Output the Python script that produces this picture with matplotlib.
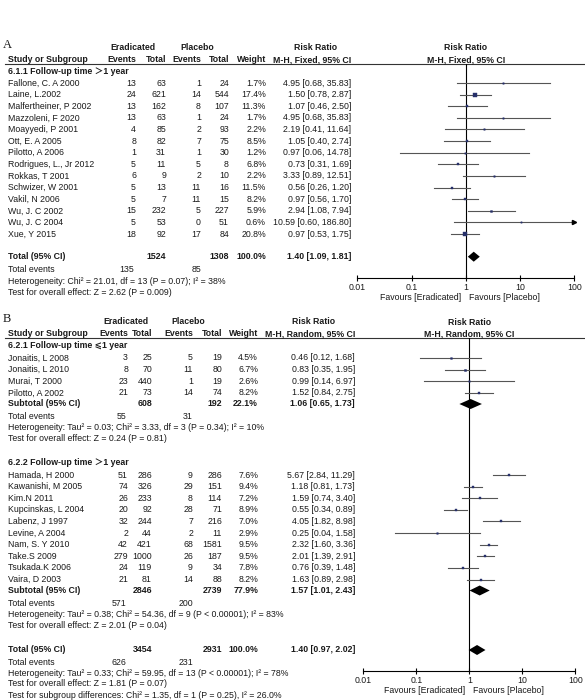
import numpy as np
import matplotlib
matplotlib.use("Agg")
import matplotlib.pyplot as plt
from matplotlib.ticker import NullLocator

plt.rcParams['font.family'] = ['Liberation Sans', 'DejaVu Sans', 'Noto Sans CJK SC']

# ---- panel A : fixed effect, follow-up > 1 year ----
a_names = ["Fallone, C. A 2000", "Laine, L.2002", "Malfertheiner, P 2002", "Mazzoleni, F 2020",
           "Moayyedi, P 2001", "Ott, E. A 2005", "Pilotto, A 2006", "Rodrigues, L., Jr 2012",
           "Rokkas, T 2001", "Schwizer, W 2001", "Vakil, N 2006", "Wu, J. C 2002",
           "Wu, J. C 2004", "Xue, Y 2015"]
a_ev_e = [13, 24, 13, 13, 4, 8, 1, 5, 6, 5, 5, 15, 5, 18]
a_tot_e = [63, 621, 162, 63, 85, 82, 31, 11, 9, 13, 7, 232, 53, 92]
a_ev_p = [1, 14, 8, 1, 2, 7, 1, 5, 2, 11, 11, 5, 0, 17]
a_tot_p = [24, 544, 107, 24, 93, 75, 30, 8, 10, 16, 15, 227, 51, 84]
a_weight = [1.7, 17.4, 11.3, 1.7, 2.2, 8.5, 1.2, 6.8, 2.2, 11.5, 8.2, 5.9, 0.6, 20.8]
a_rr = [4.95, 1.50, 1.07, 4.95, 2.19, 1.05, 0.97, 0.73, 3.33, 0.56, 0.97, 2.94, 10.59, 0.97]
a_lo = [0.68, 0.78, 0.46, 0.68, 0.41, 0.40, 0.06, 0.31, 0.89, 0.26, 0.56, 1.08, 0.60, 0.53]
a_hi = [35.83, 2.87, 2.50, 35.83, 11.64, 2.74, 14.78, 1.69, 12.51, 1.20, 1.70, 7.94, 186.80, 1.75]
a_total = dict(tot_e=1524, tot_p=1308, rr=1.40, lo=1.09, hi=1.81, ev_e=135, ev_p=85)
a_het = "Heterogeneity: Chi² = 21.01, df = 13 (P = 0.07); I² = 38%"
a_test = "Test for overall effect: Z = 2.62 (P = 0.009)"

# ---- panel B : random effects, two subgroups ----
b1_names = ["Jonaitis, L 2008", "Jonaitis, L 2010", "Murai, T 2000", "Pilotto, A 2002"]
b1_ev_e = [3, 8, 23, 21]
b1_tot_e = [25, 70, 440, 73]
b1_ev_p = [5, 11, 1, 14]
b1_tot_p = [19, 80, 19, 74]
b1_weight = [4.5, 6.7, 2.6, 8.2]
b1_rr = [0.46, 0.83, 0.99, 1.52]
b1_lo = [0.12, 0.35, 0.14, 0.84]
b1_hi = [1.68, 1.95, 6.97, 2.75]
b1_sub = dict(tot_e=608, tot_p=192, w=22.1, rr=1.06, lo=0.65, hi=1.73, ev_e=55, ev_p=31)
b1_het = "Heterogeneity: Tau² = 0.03; Chi² = 3.33, df = 3 (P = 0.34); I² = 10%"
b1_test = "Test for overall effect: Z = 0.24 (P = 0.81)"

b2_names = ["Hamada, H 2000", "Kawanishi, M 2005", "Kim.N 2011", "Kupcinskas, L 2004",
            "Labenz, J 1997", "Levine, A 2004", "Nam, S. Y 2010", "Take.S 2009",
            "Tsukada.K 2006", "Vaira, D 2003"]
b2_ev_e = [51, 74, 26, 20, 32, 2, 42, 279, 24, 21]
b2_tot_e = [286, 326, 233, 92, 244, 44, 421, 1000, 119, 81]
b2_ev_p = [9, 29, 8, 28, 7, 2, 68, 26, 9, 14]
b2_tot_p = [286, 151, 114, 71, 216, 11, 1581, 187, 34, 88]
b2_weight = [7.6, 9.4, 7.2, 8.9, 7.0, 2.9, 9.5, 9.5, 7.8, 8.2]
b2_rr = [5.67, 1.18, 1.59, 0.55, 4.05, 0.25, 2.32, 2.01, 0.76, 1.63]
b2_lo = [2.84, 0.81, 0.74, 0.34, 1.82, 0.04, 1.60, 1.39, 0.39, 0.89]
b2_hi = [11.29, 1.73, 3.40, 0.89, 8.98, 1.58, 3.36, 2.91, 1.48, 2.98]
b2_sub = dict(tot_e=2846, tot_p=2739, w=77.9, rr=1.57, lo=1.01, hi=2.43, ev_e=571, ev_p=200)
b2_het = "Heterogeneity: Tau² = 0.38; Chi² = 54.36, df = 9 (P < 0.00001); I² = 83%"
b2_test = "Test for overall effect: Z = 2.01 (P = 0.04)"

b_total = dict(tot_e=3454, tot_p=2931, rr=1.40, lo=0.97, hi=2.02, ev_e=626, ev_p=231)
b_het = "Heterogeneity: Tau² = 0.33; Chi² = 59.95, df = 13 (P < 0.00001); I² = 78%"
b_test = "Test for overall effect: Z = 1.81 (P = 0.07)"
b_sub_test = "Test for subgroup differences: Chi² = 1.35, df = 1 (P = 0.25), I² = 26.0%"

ticks = [0.01, 0.1, 1, 10, 100]
tick_labels = ["0.01", "0.1", "1", "10", "100"]

FS = 6.3
TXT = '#1a1a1a'
SQ = '#27306a'
CI = '#555555'
STEP = 11.62

fig = plt.figure(figsize=(5.85, 7.0), dpi=100)
ax = fig.add_axes([0, 0, 1, 1])
ax.set_xlim(0, 585)
ax.set_ylim(700, 0)
ax.axis('off')


def t(x, y, s, ha='left', bold=False, **kw):
    ax.text(x, y, s, ha=ha, va='center', fontsize=FS, color=TXT,
            fontweight='bold' if bold else 'normal', **kw)


def rr_str(rr, lo, hi):
    return f"{rr:.2f} [{lo:.2f}, {hi:.2f}]"


def forest_axes(x0, x1, ytop, ybot):
    f = fig.add_axes([x0 / 585, 1 - ybot / 700, (x1 - x0) / 585, (ybot - ytop) / 700])
    f.set_xscale('log')
    f.set_xlim(0.01, 100)
    f.set_ylim(ybot, ytop)
    f.patch.set_alpha(0)
    for s in ['left', 'right', 'top']:
        f.spines[s].set_visible(False)
    f.spines['bottom'].set_linewidth(0.8)
    f.set_yticks([])
    f.set_xticks(ticks)
    f.set_xticklabels(tick_labels)
    f.xaxis.set_minor_locator(NullLocator())
    f.tick_params(axis='x', direction='inout', length=4, width=0.8, pad=1.5,
                  labelsize=FS, labelcolor=TXT)
    f.axvline(1, color='black', lw=0.8)
    return f


def study_marks(f, ys, rr, lo, hi, w):
    for y, r, l, h, wt in zip(ys, rr, lo, hi, w):
        f.plot([l, min(h, 100)], [y, y], color=CI, lw=0.8, clip_on=False)
        if h > 100:
            f.plot([100], [y], marker='>', color='black', ms=3, clip_on=False)
        f.plot([r], [y], marker='s', color=SQ, ms=0.9 + 0.08 * wt, mec=SQ, mew=0.3)


def diamond(f, y, rr, lo, hi, h=5):
    f.fill([lo, rr, hi, rr], [y, y - h, y, y + h], color='black', lw=0)


def header(y1, y2, rule, cols, label1, cer, cpl, crr, method):
    t(cer, y1, "Eradicated", ha='center', bold=True)
    t(cpl, y1, "Placebo", ha='center', bold=True)
    t(crr, y1, "Risk Ratio", ha='center', bold=True)
    t(8, y2, "Study or Subgroup", bold=True)
    for x, s in zip(cols[:6], ["Events", "Total", "Events", "Total", "Weight", method]):
        t(x, y2, s, ha='right', bold=True)
    ax.plot([5, 585], [rule, rule], color='#333333', lw=0.8)
    ax.text(3, y1 - 3, label1, fontsize=9, family='Liberation Serif', color=TXT, va='center')


def study_rows(ys, cols, names, ev_e, tot_e, ev_p, tot_p, w, rr, lo, hi):
    for i, y in enumerate(ys):
        t(8, y, names[i])
        t(cols[0], y, str(ev_e[i]), ha='right')
        t(cols[1], y, str(tot_e[i]), ha='right')
        t(cols[2], y, str(ev_p[i]), ha='right')
        t(cols[3], y, str(tot_p[i]), ha='right')
        t(cols[4], y, f"{w[i]:.1f}%", ha='right')
        t(cols[5], y, rr_str(rr[i], lo[i], hi[i]), ha='right')


def summary_rows(y, cols, label, d, w, ev_y, het, het_y, test, test_y):
    t(8, y, label, bold=True)
    t(cols[1], y, str(d['tot_e']), ha='right', bold=True)
    t(cols[3], y, str(d['tot_p']), ha='right', bold=True)
    t(cols[4], y, f"{w:.1f}%", ha='right', bold=True)
    t(cols[5], y, rr_str(d['rr'], d['lo'], d['hi']), ha='right', bold=True)
    t(8, ev_y, "Total events")
    t(cols[0] - 2, ev_y, str(d['ev_e']), ha='right')
    t(cols[2], ev_y, str(d['ev_p']), ha='right')
    t(8, het_y, het)
    t(8, test_y, test)


# ================= panel A =================
cols_a = [136, 166, 201, 229, 266, 351]
header(47.5, 59.5, 63.5, cols_a, "A", 133, 197, 316, "M-H, Fixed, 95% CI")
t(8, 72, "6.1.1 Follow-up time ＞1 year", bold=True)
ys_a = 83 + STEP * np.arange(len(a_names))
study_rows(ys_a, cols_a, a_names, a_ev_e, a_tot_e, a_ev_p, a_tot_p, a_weight, a_rr, a_lo, a_hi)
summary_rows(256.7, cols_a, "Total (95% CI)", a_total, 100.0, 269.5, a_het, 281, a_test, 292.5)

fa = forest_axes(357.3, 574.3, 63.5, 278.3)
fa.text(1, 47.5, "Risk Ratio", ha='center', va='center', fontsize=FS, fontweight='bold', color=TXT)
fa.text(1, 59.5, "M-H, Fixed, 95% CI", ha='center', va='center', fontsize=FS, fontweight='bold', color=TXT)
study_marks(fa, ys_a, a_rr, a_lo, a_hi, a_weight)
diamond(fa, 256.7, a_total['rr'], a_total['lo'], a_total['hi'])
fa.text(0.83, 297.7, "Favours [Eradicated]", ha='right', va='center', fontsize=FS, color=TXT, clip_on=False)
fa.text(1.17, 297.7, "Favours [Placebo]", ha='left', va='center', fontsize=FS, color=TXT, clip_on=False)

# ================= panel B =================
cols_b = [128, 152, 193, 222, 258, 355]
header(322, 334, 338, cols_b, "B", 126, 188, 314, "M-H, Random, 95% CI")
t(8, 345.5, "6.2.1 Follow-up time ⩽1 year", bold=True)
ys_b1 = 358 + STEP * np.arange(len(b1_names))
study_rows(ys_b1, cols_b, b1_names, b1_ev_e, b1_tot_e, b1_ev_p, b1_tot_p, b1_weight, b1_rr, b1_lo, b1_hi)
summary_rows(404, cols_b, "Subtotal (95% CI)", b1_sub, b1_sub['w'], 416.5, b1_het, 427.7, b1_test, 438.5)

t(8, 462.7, "6.2.2 Follow-up time ＞1 year", bold=True)
ys_b2 = 475 + STEP * np.arange(len(b2_names))
study_rows(ys_b2, cols_b, b2_names, b2_ev_e, b2_tot_e, b2_ev_p, b2_tot_p, b2_weight, b2_rr, b2_lo, b2_hi)
summary_rows(590.5, cols_b, "Subtotal (95% CI)", b2_sub, b2_sub['w'], 603.5, b2_het, 614.7, b2_test, 625.7)

summary_rows(650, cols_b, "Total (95% CI)", b_total, 100.0, 662.3, b_het, 673, b_test, 684)
t(8, 695, b_sub_test)

fb = forest_axes(363.3, 575.3, 338, 671)
fb.text(1, 322, "Risk Ratio", ha='center', va='center', fontsize=FS, fontweight='bold', color=TXT)
fb.text(1, 334, "M-H, Random, 95% CI", ha='center', va='center', fontsize=FS, fontweight='bold', color=TXT)
study_marks(fb, ys_b1, b1_rr, b1_lo, b1_hi, b1_weight)
study_marks(fb, ys_b2, b2_rr, b2_lo, b2_hi, b2_weight)
diamond(fb, 404, b1_sub['rr'], b1_sub['lo'], b1_sub['hi'])
diamond(fb, 590.5, b2_sub['rr'], b2_sub['lo'], b2_sub['hi'])
diamond(fb, 650, b_total['rr'], b_total['lo'], b_total['hi'])
fb.text(0.83, 690.7, "Favours [Eradicated]", ha='right', va='center', fontsize=FS, color=TXT, clip_on=False)
fb.text(1.17, 690.7, "Favours [Placebo]", ha='left', va='center', fontsize=FS, color=TXT, clip_on=False)

fig.savefig("out.png", dpi=100, facecolor='white')
